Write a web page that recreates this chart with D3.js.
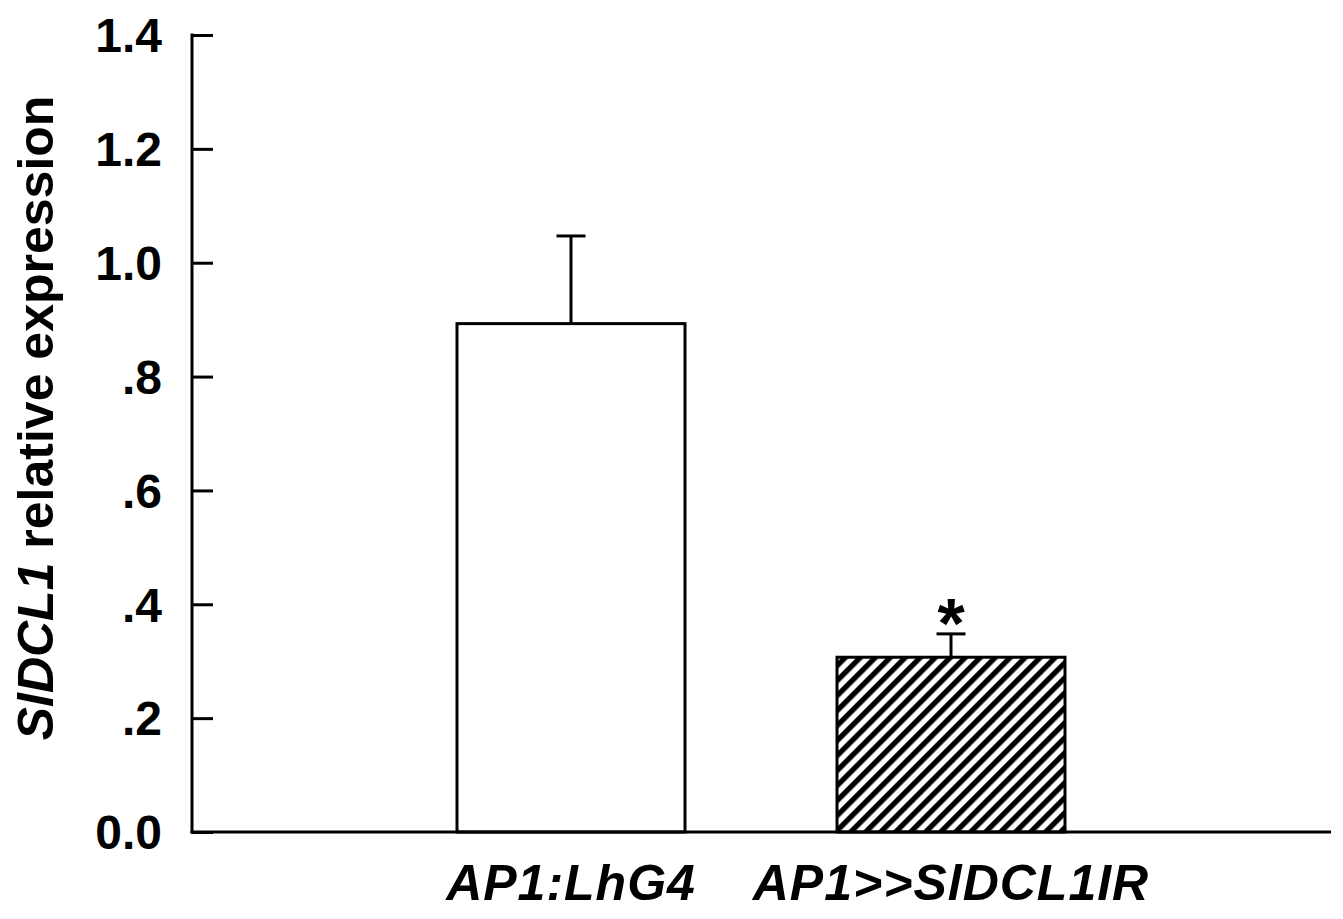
<!DOCTYPE html>
<html>
<head>
<meta charset="utf-8">
<script src="https://cdn.jsdelivr.net/npm/d3@7"></script>
<style>
  body { margin: 0; background: #fff; }
  svg { display: block; }
  text { font-family: "Liberation Sans", Arial, sans-serif; font-weight: bold; fill: #000; }
</style>
</head>
<body>
<script>
var categories = ['AP1:LhG4', 'AP1>>SlDCL1IR'];
var means = [0.893, 0.307];
var errors = [0.154, 0.041];
var significant = [false, true];
var yTicks = [0, 0.2, 0.4, 0.6, 0.8, 1.0, 1.2, 1.4];
var yTickLabels = ['0.0', '.2', '.4', '.6', '.8', '1.0', '1.2', '1.4'];

var w = 1343,
    h = 919;

var data = categories.map(function(c, i) {
  return { cat: c, mean: means[i], err: errors[i], sig: significant[i], hatch: i === 1 };
});

var svg = d3.select('body').append('svg')
  .attr('width', w)
  .attr('height', h);

// diagonal hatch for the second bar
var hs = 10.6;
svg.append('defs').append('pattern')
    .attr('id', 'hatch')
    .attr('patternUnits', 'userSpaceOnUse')
    .attr('width', hs)
    .attr('height', hs)
    .attr('patternTransform', 'rotate(45)')
  .append('rect')
    .attr('x', 0).attr('y', 0)
    .attr('width', hs / 2).attr('height', hs)
    .attr('fill', '#000');

var y = d3.scaleLinear()
  .domain([0, 1.4])
  .range([832, 35]);

var x = d3.scaleBand()
  .domain(categories)
  .range([457, 1065])
  .paddingInner(0.4)
  .paddingOuter(0);

var axisLeft = 192,
    axisRight = 1331;

// bars
svg.append('g').selectAll('rect')
  .data(data)
  .enter()
  .append('rect')
    .attr('x', function(d) { return x(d.cat); })
    .attr('y', function(d) { return y(d.mean); })
    .attr('width', x.bandwidth())
    .attr('height', function(d) { return y(0) - y(d.mean); })
    .attr('fill', function(d) { return d.hatch ? 'url(#hatch)' : '#fff'; })
    .attr('stroke', '#000')
    .attr('stroke-width', 3);

// error bars (upper only)
var errs = svg.append('g')
  .attr('stroke', '#000')
  .attr('stroke-width', 3);

errs.selectAll('.stem')
  .data(data)
  .enter()
  .append('line')
    .attr('x1', function(d) { return x(d.cat) + x.bandwidth() / 2; })
    .attr('x2', function(d) { return x(d.cat) + x.bandwidth() / 2; })
    .attr('y1', function(d) { return y(d.mean); })
    .attr('y2', function(d) { return y(d.mean + d.err); });

errs.selectAll('.cap')
  .data(data)
  .enter()
  .append('line')
    .attr('x1', function(d) { return x(d.cat) + x.bandwidth() / 2 - 14.5; })
    .attr('x2', function(d) { return x(d.cat) + x.bandwidth() / 2 + 14.5; })
    .attr('y1', function(d) { return y(d.mean + d.err); })
    .attr('y2', function(d) { return y(d.mean + d.err); });

// significance star
svg.append('g').selectAll('text')
  .data(data.filter(function(d) { return d.sig; }))
  .enter()
  .append('text')
    .attr('x', function(d) { return x(d.cat) + x.bandwidth() / 2; })
    .attr('y', function(d) { return y(d.mean + d.err) + 14; })
    .attr('text-anchor', 'middle')
    .style('font-size', '70px')
    .text('*');

// y axis, ticks pointing inward
var yAxis = d3.axisRight(y)
  .tickValues(yTicks)
  .tickSize(21)
  .tickFormat('');

var gy = svg.append('g')
  .attr('transform', 'translate(' + axisLeft + ',0)')
  .call(yAxis);
gy.select('.domain').remove();
gy.selectAll('.tick line').attr('stroke', '#000').attr('stroke-width', 3);

gy.append('line')
  .attr('x1', 0).attr('x2', 0)
  .attr('y1', y(1.4) - 1.5).attr('y2', y(0) + 1.5)
  .attr('stroke', '#000')
  .attr('stroke-width', 3);

svg.append('g').selectAll('text')
  .data(yTicks)
  .enter()
  .append('text')
    .attr('x', 162)
    .attr('y', function(d) { return y(d); })
    .attr('dy', '0.36em')
    .attr('text-anchor', 'end')
    .style('font-size', '48px')
    .text(function(d, i) { return yTickLabels[i]; });

// x axis
svg.append('line')
  .attr('x1', axisLeft - 1.5).attr('x2', axisRight)
  .attr('y1', y(0)).attr('y2', y(0))
  .attr('stroke', '#000')
  .attr('stroke-width', 3);

svg.append('g').selectAll('text')
  .data(categories)
  .enter()
  .append('text')
    .attr('x', function(d) { return x(d) + x.bandwidth() / 2; })
    .attr('y', 900)
    .attr('text-anchor', 'middle')
    .style('font-size', '50px')
    .style('font-style', 'italic')
    .style('letter-spacing', '1px')
    .text(function(d) { return d; });

// y axis title
var title = svg.append('text')
  .attr('transform', 'translate(53,418) rotate(-90)')
  .attr('text-anchor', 'middle')
  .style('font-size', '50px');
title.append('tspan').style('font-style', 'italic').text('SlDCL1');
title.append('tspan').text(' relative expression');
</script>
</body>
</html>
